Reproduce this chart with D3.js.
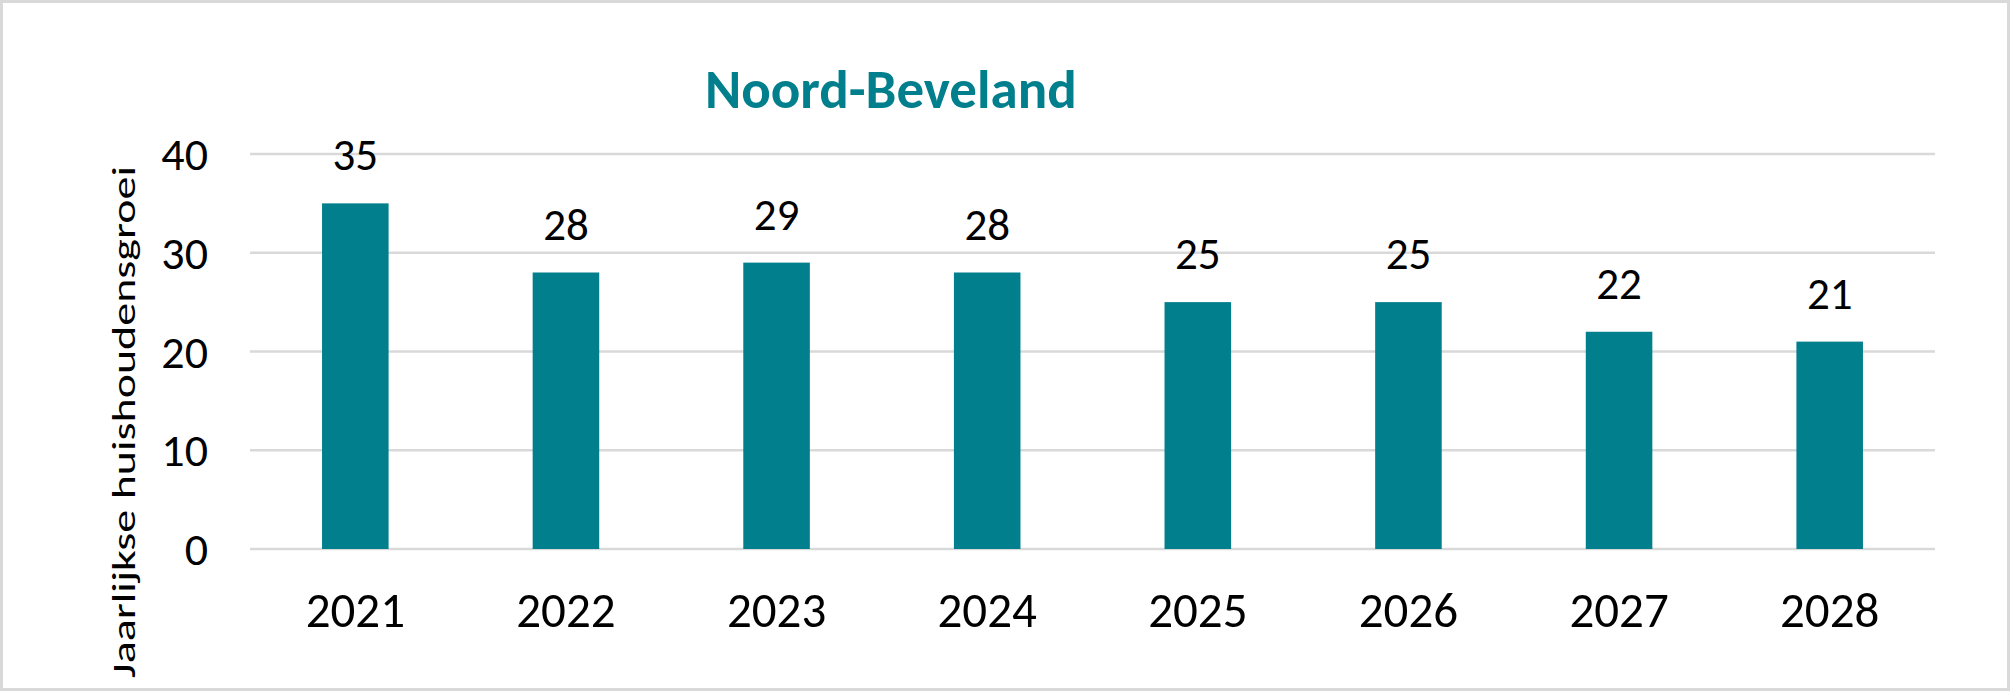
<!DOCTYPE html>
<html>
	<head>
		<meta charset="UTF-8" />
		<title>Noord-Beveland</title>
		<script src="https://cdn.jsdelivr.net/npm/d3@7"></script>
		<style>
			body {
				margin: 0;
				background: #fff;
			}
			svg {
				display: block;
			}
			text {
				font-family: Carlito, "Liberation Sans Narrow", "DejaVu Sans Condensed", sans-serif;
			}
		</style>
	</head>
	<body>
		<svg width="2010" height="691"></svg>

		<script>
			const years = ["2021", "2022", "2023", "2024", "2025", "2026", "2027", "2028"];
			const growth = [35, 28, 29, 28, 25, 25, 22, 21];
			const yTicks = [0, 10, 20, 30, 40];

			const teal = "#017f8c";
			const grid = "#d9d9d9";

			const svg = d3.select("svg");

			// outer frame
			svg
				.append("rect")
				.attr("x", 1.5)
				.attr("y", 1.5)
				.attr("width", 2007)
				.attr("height", 688)
				.attr("fill", "#fff")
				.attr("stroke", grid)
				.attr("stroke-width", 3);

			let x = d3.scaleBand().domain(years).range([250, 1935]).paddingInner(0.684).paddingOuter(0.342);
			let y = d3.scaleLinear().domain([0, 40]).range([549, 154]);

			// gridlines + tick labels
			let ticks = svg.selectAll("g.tick").data(yTicks).enter().append("g");
			ticks
				.append("line")
				.attr("x1", 250)
				.attr("x2", 1935)
				.attr("y1", (d) => y(d))
				.attr("y2", (d) => y(d))
				.attr("stroke", grid)
				.attr("stroke-width", 2.6);
			ticks
				.append("text")
				.text((d) => d)
				.attr("x", 208)
				.attr("y", (d) => y(d))
				.attr("dy", "0.35em")
				.attr("text-anchor", "end")
				.style("font-size", "46px");

			// bars
			let groups = svg.selectAll("g.bar").data(years).enter().append("g");
			groups
				.append("rect")
				.attr("x", (d) => x(d))
				.attr("y", (d, i) => y(growth[i]))
				.attr("width", x.bandwidth())
				.attr("height", (d, i) => y(0) - y(growth[i]))
				.attr("fill", teal);

			// value labels
			groups
				.append("text")
				.text((d, i) => growth[i])
				.attr("x", (d) => x(d) + x.bandwidth() / 2)
				.attr("y", (d, i) => y(growth[i]) - 33)
				.attr("text-anchor", "middle")
				.style("font-size", "45px");

			// year labels
			groups
				.append("text")
				.text((d) => d)
				.attr("x", (d) => x(d) + x.bandwidth() / 2)
				.attr("y", 627)
				.attr("text-anchor", "middle")
				.style("font-size", "49px");

			// y axis title (stretched like the source picture)
			svg
				.append("text")
				.text("Jaarlijkse huishoudensgroei")
				.attr("transform", "translate(135,422) rotate(-90)")
				.attr("text-anchor", "middle")
				.attr("textLength", 512)
				.attr("lengthAdjust", "spacingAndGlyphs")
				.style("font-size", "33px");

			// chart title
			svg
				.append("text")
				.text("Noord-Beveland")
				.attr("x", 705)
				.attr("y", 108)
				.attr("fill", teal)
				.style("font-size", "55px")
				.style("font-weight", "bold");
		</script>
	</body>
</html>
